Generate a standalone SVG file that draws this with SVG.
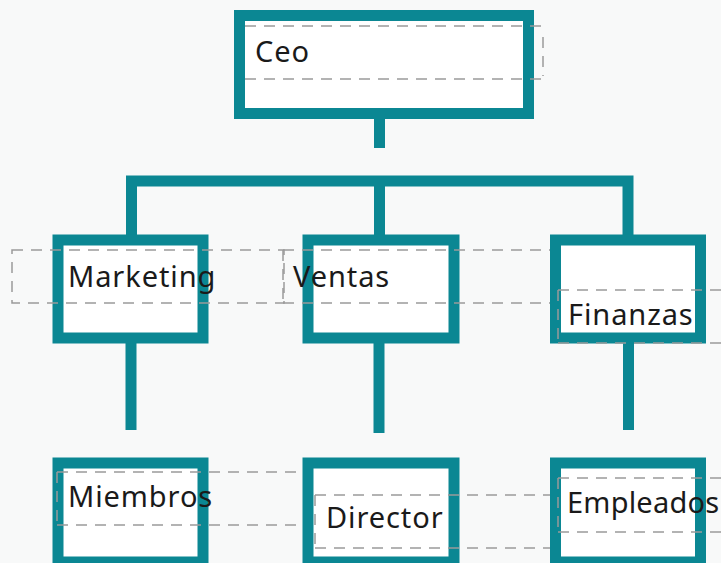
<svg xmlns="http://www.w3.org/2000/svg" width="721" height="563" viewBox="0 0 721 563">
<style>
.box{fill:#ffffff;stroke:#0b8793;stroke-width:11}
.conn{fill:none;stroke:#0b8793;stroke-width:11}
.dash{fill:none;stroke:#9a9a9a;stroke-width:1.5;stroke-dasharray:11 8}
.lbl{font-family:"Noto Sans","Open Sans",sans-serif;font-size:29px;letter-spacing:0.9px;fill:#1a1a1a}
</style>
<rect width="721" height="563" fill="#f8f9f9"/>
<g id="connectors">
<path class="conn" d="M379.5,119 V148"/>
<path class="conn" d="M131.5,235 V181 H628 V235"/>
<path class="conn" d="M379.5,181 V235"/>
<path class="conn" d="M131,343 V430"/>
<path class="conn" d="M379,343 V433"/>
<path class="conn" d="M628.5,343 V430"/>
</g>
<g id="ceo">
<rect class="box" x="239.5" y="15.5" width="289" height="98"/>
<path class="dash" d="M245,26 H541 M245,79 H541 M543,37 V76"/>
<text class="lbl" x="255" y="62">Ceo</text>
</g>
<g id="marketing">
<rect class="box" x="58" y="240" width="145" height="98"/>
<rect class="dash" x="12" y="250" width="272" height="53"/>
<text class="lbl" x="68" y="287">Marketing</text>
</g>
<g id="ventas">
<rect class="box" x="308" y="240" width="146" height="98"/>
<path class="dash" d="M283,250 H579 M283,303 H579 M283,250 V303 M583,252 V302"/>
<text class="lbl" x="293" y="287">Ventas</text>
</g>
<g id="finanzas">
<rect class="box" x="555.5" y="240" width="145" height="98"/>
<path class="dash" d="M558,290 H721 M558,343 H721 M558,290 V343"/>
<text class="lbl" x="568" y="325">Finanzas</text>
</g>
<g id="miembros">
<rect class="box" x="58" y="463" width="145" height="99"/>
<path class="dash" d="M57,472 H355 M57,525 H313 M57,472 V525 M357,472 V494"/>
<text class="lbl" x="68" y="507">Miembros</text>
</g>
<g id="director">
<rect class="box" x="308" y="463" width="146" height="99"/>
<path class="dash" d="M315,495 H585 M315,548 H612 M315,495 V548 M615,532 V548"/>
<text class="lbl" x="326" y="528">Director</text>
</g>
<g id="empleados">
<rect class="box" x="555.5" y="463" width="145" height="99"/>
<path class="dash" d="M558,478 H721 M558,532 H721 M558,478 V532"/>
<text class="lbl" x="567" y="513" style="letter-spacing:0.2px">Empleados</text>
</g>
</svg>
